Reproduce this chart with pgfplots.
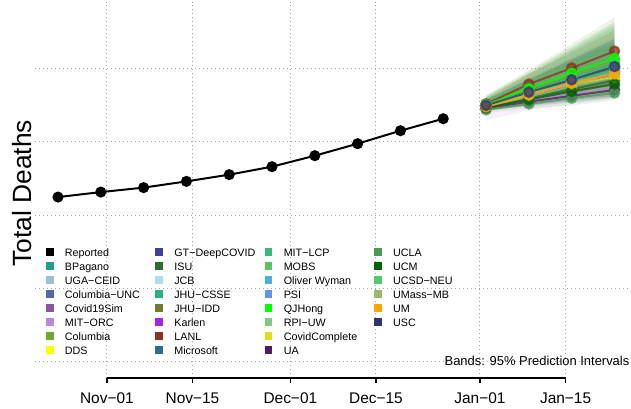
\documentclass[border=0pt]{standalone}
\usepackage{fontspec}
\setmainfont{Liberation Sans}
\usepackage{pgfplots}
\pgfplotsset{compat=1.18}
\definecolor{cBPagano}{HTML}{22A087}
\definecolor{cUGA}{HTML}{9BC2CF}
\definecolor{cColUNC}{HTML}{5568AA}
\definecolor{cC19S}{HTML}{8954A0}
\definecolor{cMITORC}{HTML}{BE86E0}
\definecolor{cColumbia}{HTML}{6AAB2E}
\definecolor{cDDS}{HTML}{FFFF00}
\definecolor{cGT}{HTML}{3F3F99}
\definecolor{cISU}{HTML}{2F6B30}
\definecolor{cJCB}{HTML}{ADDEEC}
\definecolor{cJHUCSSE}{HTML}{2BB07F}
\definecolor{cJHUIDD}{HTML}{6E7D2C}
\definecolor{cKarlen}{HTML}{A221F0}
\definecolor{cLANL}{HTML}{8B3222}
\definecolor{cMicrosoft}{HTML}{2B6E8C}
\definecolor{cMITLCP}{HTML}{3DB877}
\definecolor{cMOBS}{HTML}{57C660}
\definecolor{cOW}{HTML}{4AAFD9}
\definecolor{cPSI}{HTML}{5F93E3}
\definecolor{cQJHong}{HTML}{00FF00}
\definecolor{cRPI}{HTML}{7FCB7F}
\definecolor{cCovidComplete}{HTML}{DEDE1A}
\definecolor{cUA}{HTML}{4F1A62}
\definecolor{cUCLA}{HTML}{4A9A55}
\definecolor{cUCM}{HTML}{006400}
\definecolor{cUCSD}{HTML}{50CB6B}
\definecolor{cUMass}{HTML}{9CB86B}
\definecolor{cUM}{HTML}{FFA500}
\definecolor{cUSC}{HTML}{2E346E}
\newcommand{\lgd}[1]{\makebox[90.5bp][l]{#1}}
\pgfplotsset{
  band/.style={draw=none, fill=#1, fill opacity=0.13, forget plot},
  fc/.style={color=#1, line width=2bp, mark=*, mark size=4.8bp, opacity=0.75, forget plot},
}
\begin{document}
\begin{tikzpicture}
\begin{axis}[
  scale only axis, width=596bp, height=378bp,
  xmin=-11.765, xmax=85.62, ymin=-0.2251, ymax=4.9318,
  clip=false,
  axis line style={draw=none},
  xtick={0,14,30,44,61,75},
  xticklabels={Nov−01,Nov−15,Dec−01,Dec−15,Jan−01,Jan−15},
  ytick={0,1,2,3,4}, yticklabels={},
  tick pos=left,
  tick align=outside, major tick length=4.5bp,
  xtick style={draw=black, line width=1.5bp},
  ytick style={draw=none},
  xmajorgrids, ymajorgrids,
  grid style={line width=1bp, dash pattern=on 1bp off 3bp, color=black!35},
  /pgf/number format/assume math mode=true,
  xticklabel style={font=\fontsize{15.5}{18}\selectfont, anchor=base, yshift=-21bp, inner sep=0pt},
  legend columns=4,
  legend cell align=left,
  legend image code/.code={\fill[#1, draw=none] (0bp,-3.8bp) rectangle (7.6bp,3.8bp); \path[draw=none, fill=none] (0bp,0bp) -- (19bp,0bp);},
  legend style={at={(rel axis cs:0.01846,0.3519)}, anchor=north west, draw=none, fill=none,
    inner sep=0pt, outer sep=0pt, column sep=0pt, row sep=0pt,
    font=\fontsize{10.8}{13}\selectfont,
    nodes={inner sep=0pt, text height=10.9bp, text depth=3.1bp}},
]
% bounding box of the whole picture
\path (rel axis cs:-0.0587,-0.0794) rectangle (rel axis cs:1,1);
% x axis line
\draw[line width=2bp] (axis cs:0,-0.2251) -- (axis cs:75,-0.2251);

% Reported
\addplot[black, line width=2bp, mark=*, mark size=4.5bp, forget plot] coordinates {
 (-8,2.248) (-1,2.316) (6,2.377) (13,2.462) (20,2.554) (27,2.663) (34,2.813) (41,2.977) (48,3.154) (55,3.318)};

% Prediction bands
\addplot[band=cBPagano] coordinates {(62,3.45) (69,3.57) (76,3.69) (83,3.80) (83,4.40) (76,4.13) (69,3.85) (62,3.58)};
\addplot[band=cMITORC] coordinates {(62,3.30) (69,3.43) (76,3.52) (83,3.60) (83,4.02) (76,3.86) (69,3.70) (62,3.52)};
\addplot[band=cColumbia] coordinates {(62,3.46) (69,3.59) (76,3.72) (83,3.84) (83,4.70) (76,4.34) (69,3.98) (62,3.64)};
\addplot[band=cGT] coordinates {(62,3.45) (69,3.57) (76,3.68) (83,3.78) (83,4.38) (76,4.12) (69,3.85) (62,3.58)};
\addplot[band=cISU] coordinates {(62,3.42) (69,3.50) (76,3.56) (83,3.62) (83,4.22) (76,4.00) (69,3.78) (62,3.55)};
\addplot[band=cJHUCSSE] coordinates {(62,3.43) (69,3.54) (76,3.64) (83,3.73) (83,4.59) (76,4.26) (69,3.93) (62,3.61)};
\addplot[band=cJHUIDD] coordinates {(62,3.45) (69,3.57) (76,3.68) (83,3.78) (83,4.64) (76,4.30) (69,3.96) (62,3.63)};
\addplot[band=cKarlen] coordinates {(62,3.44) (69,3.55) (76,3.66) (83,3.76) (83,4.14) (76,3.94) (69,3.73) (62,3.53)};
\addplot[band=cLANL] coordinates {(62,3.47) (69,3.69) (76,3.85) (83,4.02) (83,4.52) (76,4.22) (69,3.93) (62,3.58)};
\addplot[band=cMicrosoft] coordinates {(62,3.44) (69,3.56) (76,3.66) (83,3.75) (83,4.35) (76,4.10) (69,3.84) (62,3.57)};
\addplot[band=cMITLCP] coordinates {(62,3.45) (69,3.59) (76,3.72) (83,3.85) (83,4.45) (76,4.16) (69,3.87) (62,3.58)};
\addplot[band=cMOBS] coordinates {(62,3.43) (69,3.53) (76,3.63) (83,3.70) (83,4.56) (76,4.25) (69,3.92) (62,3.61)};
\addplot[band=cOW] coordinates {(62,3.45) (69,3.57) (76,3.68) (83,3.78) (83,4.16) (76,3.96) (69,3.75) (62,3.54)};
\addplot[band=cPSI] coordinates {(62,3.46) (69,3.60) (76,3.74) (83,3.87) (83,4.25) (76,4.02) (69,3.78) (62,3.55)};
\addplot[band=cQJHong] coordinates {(62,3.47) (69,3.65) (76,3.82) (83,3.98) (83,4.36) (76,4.10) (69,3.83) (62,3.56)};
\addplot[band=cRPI] coordinates {(62,3.43) (69,3.52) (76,3.60) (83,3.62) (83,4.30) (76,4.06) (69,3.81) (62,3.56)};
\addplot[band=cCovidComplete] coordinates {(62,3.44) (69,3.56) (76,3.63) (83,3.67) (83,4.27) (76,4.07) (69,3.84) (62,3.57)};
\addplot[band=cUA] coordinates {(62,3.43) (69,3.49) (76,3.54) (83,3.60) (83,3.93) (76,3.79) (69,3.65) (62,3.51)};
\addplot[band=cUCLA] coordinates {(62,3.40) (69,3.46) (76,3.50) (83,3.57) (83,3.89) (76,3.76) (69,3.62) (62,3.49)};
\addplot[band=cUCM] coordinates {(62,3.43) (69,3.50) (76,3.57) (83,3.63) (83,4.01) (76,3.85) (69,3.68) (62,3.52)};
\addplot[band=cUCSD] coordinates {(62,3.44) (69,3.55) (76,3.66) (83,3.76) (83,4.62) (76,4.28) (69,3.94) (62,3.62)};
\addplot[band=cUMass] coordinates {(62,3.43) (69,3.52) (76,3.61) (83,3.67) (83,4.53) (76,4.23) (69,3.91) (62,3.61)};
\addplot[band=cUM] coordinates {(62,3.44) (69,3.56) (76,3.68) (83,3.77) (83,4.15) (76,3.96) (69,3.74) (62,3.53)};
\addplot[band=cUSC] coordinates {(62,3.45) (69,3.58) (76,3.69) (83,3.81) (83,4.41) (76,4.13) (69,3.86) (62,3.58)};

% Point forecasts
\addplot[fc=cBPagano] coordinates {(62,3.50) (69,3.67) (76,3.85) (83,4.02)};
\addplot[fc=cMITORC] coordinates {(62,3.45) (69,3.56) (76,3.66) (83,3.76)};
\addplot[fc=cColumbia] coordinates {(62,3.52) (69,3.72) (76,3.92) (83,4.12)};
\addplot[fc=cGT] coordinates {(62,3.50) (69,3.67) (76,3.84) (83,4.00)};
\addplot[fc=cISU] coordinates {(62,3.47) (69,3.60) (76,3.72) (83,3.84)};
\addplot[fc=cJHUCSSE] coordinates {(62,3.49) (69,3.67) (76,3.84) (83,4.01)};
\addplot[fc=cJHUIDD] coordinates {(62,3.51) (69,3.70) (76,3.88) (83,4.06)};
\addplot[fc=cKarlen] coordinates {(62,3.48) (69,3.63) (76,3.78) (83,3.92)};
\addplot[fc=cLANL] coordinates {(62,3.52) (69,3.79) (76,4.01) (83,4.24)};
\addplot[fc=cMicrosoft] coordinates {(62,3.49) (69,3.66) (76,3.82) (83,3.97)};
\addplot[fc=cMITLCP] coordinates {(62,3.50) (69,3.69) (76,3.88) (83,4.07)};
\addplot[fc=cMOBS] coordinates {(62,3.49) (69,3.66) (76,3.83) (83,3.98)};
\addplot[fc=cOW] coordinates {(62,3.49) (69,3.65) (76,3.80) (83,3.94)};
\addplot[fc=cPSI] coordinates {(62,3.50) (69,3.68) (76,3.86) (83,4.03)};
\addplot[fc=cQJHong] coordinates {(62,3.51) (69,3.73) (76,3.94) (83,4.14)};
\addplot[fc=cRPI] coordinates {(62,3.48) (69,3.62) (76,3.76) (83,3.88)};
\addplot[fc=cCovidComplete] coordinates {(62,3.49) (69,3.66) (76,3.79) (83,3.89)};
\addplot[fc=cUA] coordinates {(62,3.46) (69,3.55) (76,3.63) (83,3.71)};
\addplot[fc=cUCLA] coordinates {(62,3.44) (69,3.52) (76,3.60) (83,3.67)};
\addplot[fc=cUCM] coordinates {(62,3.47) (69,3.58) (76,3.69) (83,3.79)};
\addplot[fc=cUCSD] coordinates {(62,3.50) (69,3.68) (76,3.86) (83,4.04)};
\addplot[fc=cUMass] coordinates {(62,3.49) (69,3.65) (76,3.81) (83,3.95)};
\addplot[fc=cUM] coordinates {(62,3.48) (69,3.64) (76,3.80) (83,3.93)};
\addplot[fc=cUSC] coordinates {(62,3.50) (69,3.68) (76,3.85) (83,4.03)};

% Legend (row-major, 4 columns)
\addlegendimage{fill=black}\addlegendentry{\lgd{Reported}}
\addlegendimage{fill=cGT}\addlegendentry{\lgd{GT−DeepCOVID}}
\addlegendimage{fill=cMITLCP}\addlegendentry{\lgd{MIT−LCP}}
\addlegendimage{fill=cUCLA}\addlegendentry{\lgd{UCLA}}
\addlegendimage{fill=cBPagano}\addlegendentry{\lgd{BPagano}}
\addlegendimage{fill=cISU}\addlegendentry{\lgd{ISU}}
\addlegendimage{fill=cMOBS}\addlegendentry{\lgd{MOBS}}
\addlegendimage{fill=cUCM}\addlegendentry{\lgd{UCM}}
\addlegendimage{fill=cUGA}\addlegendentry{\lgd{UGA−CEID}}
\addlegendimage{fill=cJCB}\addlegendentry{\lgd{JCB}}
\addlegendimage{fill=cOW}\addlegendentry{\lgd{Oliver Wyman}}
\addlegendimage{fill=cUCSD}\addlegendentry{\lgd{UCSD−NEU}}
\addlegendimage{fill=cColUNC}\addlegendentry{\lgd{Columbia−UNC}}
\addlegendimage{fill=cJHUCSSE}\addlegendentry{\lgd{JHU−CSSE}}
\addlegendimage{fill=cPSI}\addlegendentry{\lgd{PSI}}
\addlegendimage{fill=cUMass}\addlegendentry{\lgd{UMass−MB}}
\addlegendimage{fill=cC19S}\addlegendentry{\lgd{Covid19Sim}}
\addlegendimage{fill=cJHUIDD}\addlegendentry{\lgd{JHU−IDD}}
\addlegendimage{fill=cQJHong}\addlegendentry{\lgd{QJHong}}
\addlegendimage{fill=cUM}\addlegendentry{\lgd{UM}}
\addlegendimage{fill=cMITORC}\addlegendentry{\lgd{MIT−ORC}}
\addlegendimage{fill=cKarlen}\addlegendentry{\lgd{Karlen}}
\addlegendimage{fill=cRPI}\addlegendentry{\lgd{RPI−UW}}
\addlegendimage{fill=cUSC}\addlegendentry{\lgd{USC}}
\addlegendimage{fill=cColumbia}\addlegendentry{\lgd{Columbia}}
\addlegendimage{fill=cLANL}\addlegendentry{\lgd{LANL}}
\addlegendimage{fill=cCovidComplete}\addlegendentry{\lgd{CovidComplete}}
\addlegendimage{fill=white, fill opacity=0}\addlegendentry{\lgd{}}
\addlegendimage{fill=cDDS}\addlegendentry{\lgd{DDS}}
\addlegendimage{fill=cMicrosoft}\addlegendentry{\lgd{Microsoft}}
\addlegendimage{fill=cUA}\addlegendentry{\lgd{UA}}

% Texts
\node[rotate=90, anchor=base, inner sep=0pt, font=\fontsize{26.5}{30}\selectfont] at (rel axis cs:-0.00587,0.4894) {Total Deaths};
\node[anchor=base east, inner sep=0pt, font=\fontsize{13}{15}\selectfont] at (rel axis cs:0.9983,0.0325) {Bands: 95\% Prediction Intervals};
\end{axis}
\end{tikzpicture}
\end{document}
